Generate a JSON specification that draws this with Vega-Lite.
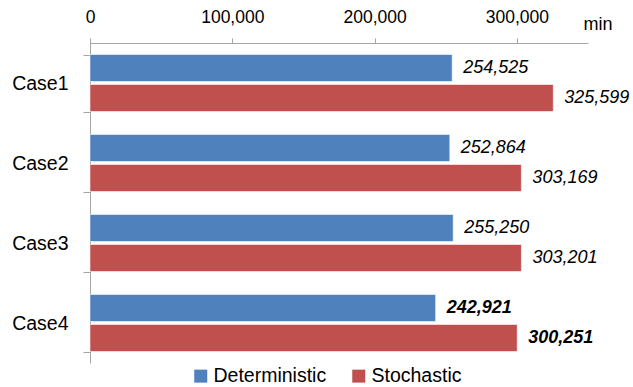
{
  "$schema": "https://vega.github.io/schema/vega-lite/v6.json",
  "width": 498,
  "height": 320,
  "autosize": {"type": "none"},
  "padding": {"left": 90, "top": 43, "right": 45, "bottom": 24},
  "background": "#ffffff",
  "config": {
    "view": {"stroke": null},
    "font": "Liberation Sans",
    "axis": {"labelFont": "Liberation Sans", "titleFont": "Liberation Sans", "labelColor": "#000000", "titleColor": "#000000"}
  },
  "data": {
    "values": [
      {"case": "Case1", "method": "Deterministic", "minutes": 254525},
      {"case": "Case1", "method": "Stochastic", "minutes": 325599},
      {"case": "Case2", "method": "Deterministic", "minutes": 252864},
      {"case": "Case2", "method": "Stochastic", "minutes": 303169},
      {"case": "Case3", "method": "Deterministic", "minutes": 255250},
      {"case": "Case3", "method": "Stochastic", "minutes": 303201},
      {"case": "Case4", "method": "Deterministic", "minutes": 242921},
      {"case": "Case4", "method": "Stochastic", "minutes": 300251}
    ]
  },
  "encoding": {
    "y": {
      "field": "case",
      "type": "nominal",
      "sort": ["Case1", "Case2", "Case3", "Case4"],
      "scale": {"paddingInner": 0.2875, "paddingOuter": 0.14375},
      "axis": {
        "title": null,
        "orient": "left",
        "tickBand": "extent",
        "tickSize": 7,
        "tickColor": "#a6a6a6",
        "domainColor": "#a6a6a6",
        "labelFontSize": 19.5,
        "labelPadding": 15,
        "grid": false
      }
    },
    "yOffset": {
      "field": "method",
      "type": "nominal",
      "sort": ["Deterministic", "Stochastic"],
      "scale": {"paddingInner": 0.1, "paddingOuter": 0}
    },
    "x": {
      "field": "minutes",
      "type": "quantitative",
      "scale": {"domain": [0, 350000], "nice": false},
      "axis": {
        "orient": "top",
        "values": [0, 100000, 200000, 300000],
        "format": ",d",
        "labelFlush": false,
        "tickSize": 5,
        "tickColor": "#a6a6a6",
        "domainColor": "#a6a6a6",
        "labelFontSize": 17.5,
        "labelPadding": 12,
        "grid": false,
        "title": "min",
        "titleFontSize": 18,
        "titleFontWeight": "normal",
        "titleAnchor": "start",
        "titleAlign": "left",
        "titleBaseline": "alphabetic",
        "titleX": 493,
        "titleY": -14
      }
    }
  },
  "layer": [
    {
      "mark": {"type": "bar", "stroke": "#ffffff", "strokeOpacity": 0.55, "strokeWidth": 1},
      "encoding": {
        "color": {
          "field": "method",
          "type": "nominal",
          "scale": {"domain": ["Deterministic", "Stochastic"], "range": ["#4F81BD", "#C0504D"]},
          "legend": {
            "title": null,
            "orient": "none",
            "direction": "horizontal",
            "legendX": 101,
            "legendY": 323,
            "symbolType": "square",
            "symbolSize": 169,
            "symbolStrokeWidth": 0,
            "labelFontSize": 19.5,
            "labelFont": "Liberation Sans",
            "labelColor": "#000000",
            "labelOffset": 3,
            "columnPadding": 22
          }
        }
      }
    },
    {
      "transform": [{"filter": "datum.case !== 'Case4'"}],
      "mark": {"type": "text", "align": "left", "baseline": "middle", "dx": 11, "fontSize": 18, "fontStyle": "italic", "color": "#000000"},
      "encoding": {"text": {"field": "minutes", "type": "quantitative", "format": ",d"}}
    },
    {
      "transform": [{"filter": "datum.case === 'Case4'"}],
      "mark": {"type": "text", "align": "left", "baseline": "middle", "dx": 11, "fontSize": 18, "fontStyle": "italic", "fontWeight": "bold", "color": "#000000"},
      "encoding": {"text": {"field": "minutes", "type": "quantitative", "format": ",d"}}
    }
  ]
}
